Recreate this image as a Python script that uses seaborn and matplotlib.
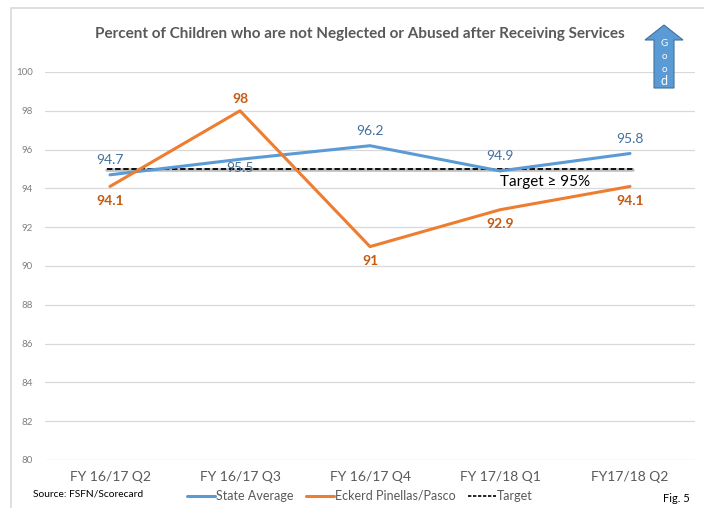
import matplotlib
matplotlib.use("Agg")
import matplotlib.pyplot as plt
from matplotlib.patches import FancyArrow, Rectangle
from matplotlib.lines import Line2D
import seaborn as sns
import pandas as pd

quarters = ["FY 16/17 Q2", "FY 16/17 Q3", "FY 16/17 Q4", "FY 17/18 Q1", "FY17/18 Q2"]
state_avg = [94.7, 95.5, 96.2, 94.9, 95.8]
eckerd = [94.1, 98, 91, 92.9, 94.1]
target = 95
yticks = [80, 82, 84, 86, 88, 90, 92, 94, 96, 98, 100]

sns.set_theme(style="white")
plt.rcParams["font.family"] = ["Lato", "DejaVu Sans"]

BLUE = "#5B9BD5"
ORANGE = "#ED7D31"
BLUE_TXT = "#44709E"
ORANGE_TXT = "#C55A11"
GREY_TXT = "#595959"

fig = plt.figure(figsize=(7.04, 5.08), dpi=100)
ax = fig.add_axes([45 / 704, 1 - 460 / 508, 650 / 704, 388 / 508])

df = pd.DataFrame({
    "x": list(range(len(quarters))) * 2,
    "value": state_avg + eckerd,
    "series": ["State Average"] * 5 + ["Eckerd Pinellas/Pasco"] * 5,
})
sns.lineplot(data=df, x="x", y="value", hue="series",
             palette={"State Average": BLUE, "Eckerd Pinellas/Pasco": ORANGE},
             linewidth=2.2, legend=False, ax=ax, zorder=4)

# target line with a soft shadow
ax.plot([-0.02, 4.02], [target - 0.05, target - 0.05], color="#BFBFBF", lw=2.6, zorder=2)
ax.plot([-0.02, 4.02], [target, target], color="black", lw=1.3, ls=(0, (3, 1.5)), zorder=3)

ax.set_xlim(-0.5, 4.5)
ax.set_ylim(80, 100)
ax.set_yticks(yticks)
ax.set_yticklabels([str(t) for t in yticks], fontsize=7, color="#808080")
ax.set_xticks(range(len(quarters)))
ax.set_xticklabels(quarters, fontsize=10, color=GREY_TXT)
ax.tick_params(axis="both", length=0)
ax.tick_params(axis="y", pad=9)
ax.tick_params(axis="x", pad=8)
ax.set_xlabel("")
ax.set_ylabel("")
for s in ax.spines.values():
    s.set_visible(False)
ax.grid(axis="y", color="#D9D9D9", lw=0.9)
ax.set_axisbelow(True)

# value labels
state_pos = ["above", "below", "above", "above", "above"]
for i, (v, p) in enumerate(zip(state_avg, state_pos)):
    off = 0.75 if p == "above" else -0.45
    ax.text(i, v + off, f"{v:g}", ha="center", va="center", fontsize=10,
            color=BLUE_TXT, zorder=5)
eck_pos = ["below", "above", "below", "below", "below"]
for i, (v, p) in enumerate(zip(eckerd, eck_pos)):
    off = 0.6 if p == "above" else -0.75
    ax.text(i, v + off, f"{v:g}", ha="center", va="center", fontsize=10,
            color=ORANGE_TXT, fontweight="bold", zorder=5)

ax.text(3.35, 94.35, "Target \u2265 95%", ha="center", va="center",
        fontsize=11, color="black", zorder=5)

# title
fig.text(360 / 704, 1 - 34 / 508, "Percent of Children who are not Neglected or Abused after Receiving Services",
         ha="center", va="center", fontsize=11, fontweight="bold", color=GREY_TXT)

# outer frame
fig.patches.append(Rectangle((11 / 704, -0.1), 1.2, 1 - 8 / 508 + 0.1,
                             transform=fig.transFigure, fill=False,
                             edgecolor="#D9D9D9", lw=1.2))

# "Good" arrow
arrow = FancyArrow(664 / 704, 1 - 88 / 508, 0, 63 / 508, width=20 / 704,
                   head_width=38 / 704, head_length=15 / 508,
                   length_includes_head=True, transform=fig.transFigure,
                   facecolor=BLUE, edgecolor="#41719C", lw=0.8)
fig.patches.append(arrow)
for k, ch in enumerate("Good"):
    fig.text(664 / 704, 1 - (44 + k * 12.5) / 508, ch, ha="center", va="center",
             fontsize=7 if k < 3 else 9, color="white")

# legend
handles = [
    Line2D([], [], color=BLUE, lw=2.2),
    Line2D([], [], color=ORANGE, lw=2.2),
    Line2D([], [], color="black", lw=1.2, ls=(0, (2, 1))),
]
fig.legend(handles, ["State Average", "Eckerd Pinellas/Pasco", "Target"],
           loc="center", bbox_to_anchor=(360 / 704, 1 - 496 / 508), ncol=3, frameon=False,
           fontsize=9, handlelength=2.2, handletextpad=0.1, columnspacing=1.0,
           labelcolor=GREY_TXT)

fig.text(33 / 704, 1 - 494 / 508, "Source: FSFN/Scorecard", ha="left", va="center",
         fontsize=7.4, color="black")
fig.text(690 / 704, 1 - 499 / 508, "Fig. 5", ha="right", va="center",
         fontsize=8, color="black")

fig.savefig("out.png", dpi=100)
